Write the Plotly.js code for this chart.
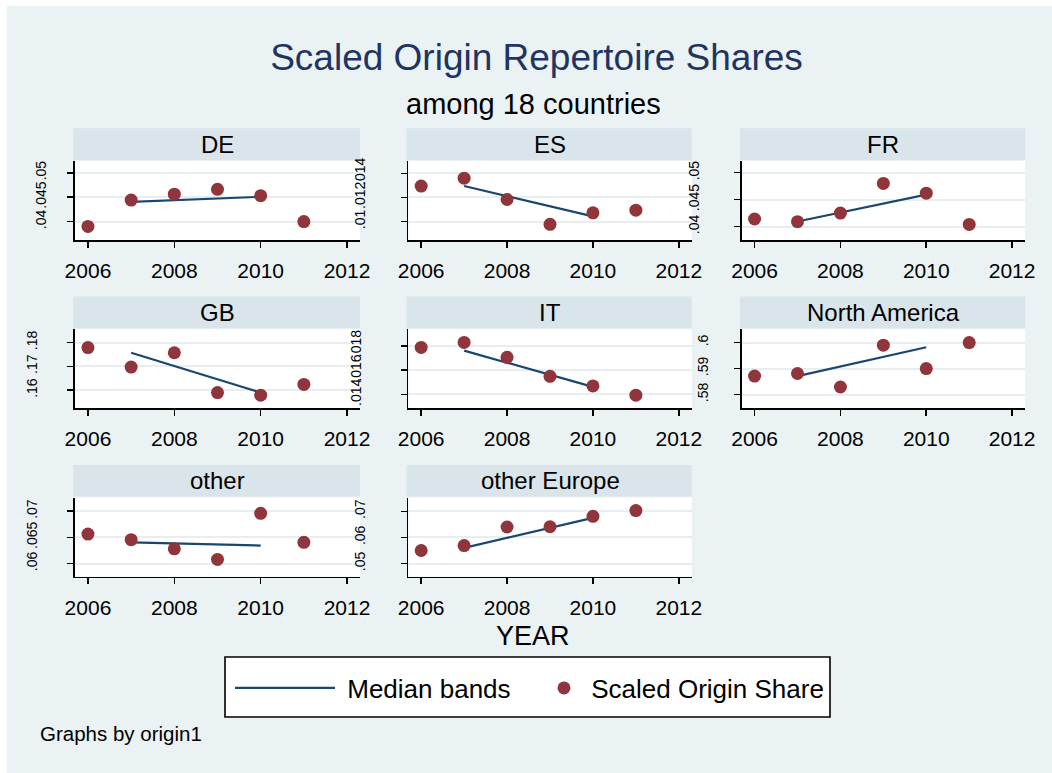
<!DOCTYPE html>
<html>
<head>
<meta charset="utf-8">
<script src="https://cdn.plot.ly/plotly-3.0.1.min.js"></script>
<style>
html,body{margin:0;padding:0;background:#ffffff;}
#chart{position:absolute;left:7px;top:6px;width:1045px;height:767px;}
</style>
</head>
<body>
<div id="chart"></div>
<script>
// ---- data ----
const years = [2006, 2007, 2008, 2009, 2010, 2011];
const panels = ["DE", "ES", "FR", "GB", "IT", "North America", "other", "other Europe"];

const shareDE = [0.0390, 0.0444, 0.0456, 0.0466, 0.0453, 0.0400];
const shareES = [0.01295, 0.0136, 0.01183, 0.00977, 0.01072, 0.01094];
const shareFR = [0.0414, 0.0409, 0.0425, 0.0480, 0.0462, 0.0404];
const shareGB = [0.1779, 0.1697, 0.1757, 0.1590, 0.1579, 0.1624];
const shareIT = [0.01786, 0.01827, 0.01705, 0.01549, 0.0147, 0.01394];
const shareNA = [0.5871, 0.5881, 0.5829, 0.5990, 0.5900, 0.6000];
const shareOther = [0.06564, 0.06457, 0.06283, 0.0608, 0.0696, 0.06406];
const shareOtherEur = [0.0550, 0.0569, 0.0640, 0.0641, 0.0681, 0.0703];

const medianYears = [2007, 2010];
const medDE = [0.04403, 0.04506];
const medES = [0.01295, 0.01043];
const medFR = [0.04094, 0.04594];
const medGB = [0.1757, 0.1590];
const medIT = [0.0176, 0.01462];
const medNA = [0.5871, 0.5982];
const medOther = [0.06406, 0.06344];
const medOtherEur = [0.0560, 0.0675];

const yTickVals = [
  [0.04, 0.045, 0.05],
  [0.01, 0.012, 0.014],
  [0.04, 0.045, 0.05],
  [0.16, 0.17, 0.18],
  [0.014, 0.016, 0.018],
  [0.58, 0.59, 0.6],
  [0.06, 0.065, 0.07],
  [0.05, 0.06, 0.07]
];
const yTickText = [
  [".04", ".045", ".05"],
  [".01", ".012", ".014"],
  [".04", ".045", ".05"],
  [".16", ".17", ".18"],
  [".014", ".016", ".018"],
  [".58", ".59", ".6"],
  [".06", ".065", ".07"],
  [".05", ".06", ".07"]
];
const xTickVals = [2006, 2008, 2010, 2012];
const xTickText = ["2006", "2008", "2010", "2012"];

const shares = [shareDE, shareES, shareFR, shareGB, shareIT, shareNA, shareOther, shareOtherEur];
const medians = [medDE, medES, medFR, medGB, medIT, medNA, medOther, medOtherEur];

// ---- layout helpers (pixel -> paper) ----
const W = 1045, H = 767, OX = 7, OY = 6;
const px = X => (X - OX) / W;
const py = Y => 1 - (Y - OY) / H;

const colX = [[75, 360], [408.3, 691.7], [741.7, 1025]];
const rowY = [[161, 240], [329.3, 408.3], [497.6, 576.7]];
const stripY = [[128.3, 160], [296.6, 328.3], [465, 496.6]];
const yRanges = [
  [0.03622, 0.0524],
  [0.008465, 0.01503],
  [0.0375, 0.05217],
  [0.1524, 0.18555],
  [0.01286, 0.01935],
  [0.5747, 0.6051],
  [0.0575, 0.0726],
  [0.04497, 0.07525]
];
const yStandoff = [16, 30, 30, 25, 34, 21, 25, 30];

const MAROON = "#8F353B";
const NAVY = "#1A476F";
const GRID = "#E6EEF1";
const BG = "#EAF2F3";
const STRIP = "#D9E5EA";
const FONT = "Liberation Sans, Arial, sans-serif";

const traces = [];
const layout = {
  width: W, height: H,
  margin: {l: 0, r: 0, t: 0, b: 0},
  paper_bgcolor: BG,
  plot_bgcolor: "#ffffff",
  font: {family: FONT, color: "#000000"},
  showlegend: true,
  title: {
    text: "Scaled Origin Repertoire Shares",
    font: {family: FONT, size: 37, color: "#1F3461"},
    x: px(536.5), xanchor: "center", xref: "container",
    y: py(57), yanchor: "middle", yref: "container"
  },
  shapes: [],
  annotations: [],
  legend: {
    orientation: "h",
    x: px(230), xanchor: "left",
    y: py(688), yanchor: "middle",
    bgcolor: "rgba(0,0,0,0)",
    borderwidth: 0,
    font: {family: FONT, size: 26, color: "#000000"},
    itemwidth: 100
  },
  legend2: {
    orientation: "h",
    x: px(544), xanchor: "left",
    y: py(688), yanchor: "middle",
    bgcolor: "rgba(0,0,0,0)",
    borderwidth: 0,
    font: {family: FONT, size: 26, color: "#000000"},
    itemwidth: 30
  }
};

panels.forEach((name, i) => {
  const r = Math.floor(i / 3), c = i % 3;
  const ax = i === 0 ? "" : String(i + 1);
  const xa = "xaxis" + ax, ya = "yaxis" + ax;
  layout[xa] = {
    domain: [px(colX[c][0]), px(colX[c][1])],
    anchor: "y" + ax,
    range: [2005.7, 2012.3],
    tickvals: xTickVals, ticktext: xTickText,
    ticks: "outside", ticklen: 6, tickwidth: 1.6, tickcolor: "#000",
    showline: true, linecolor: "#000", linewidth: 1.6,
    showgrid: false, zeroline: false,
    tickfont: {family: FONT, size: 21, color: "#000"},
    ticklabelstandoff: 5,
    fixedrange: true
  };
  layout[ya] = {
    domain: [py(rowY[r][1]), py(rowY[r][0])],
    anchor: "x" + ax,
    range: yRanges[i],
    tickvals: yTickVals[i], ticktext: yTickText[i],
    tickangle: -90,
    ticks: "outside", ticklen: 6, tickwidth: 1.6, tickcolor: "#000",
    showline: true, linecolor: "#000", linewidth: 1.6,
    showgrid: true, gridcolor: GRID, gridwidth: 2,
    zeroline: false,
    tickfont: {family: FONT, size: 14, color: "#000"},
    ticklabelstandoff: yStandoff[i],
    fixedrange: true
  };
  // strip header
  layout.shapes.push({
    type: "rect", xref: "paper", yref: "paper", layer: "below",
    x0: px(colX[c][0] - 1.7), x1: px(colX[c][1]),
    y0: py(stripY[r][1]), y1: py(stripY[r][0]),
    fillcolor: STRIP, line: {width: 0}
  });
  layout.annotations.push({
    text: name, xref: "paper", yref: "paper",
    x: px((colX[c][0] + colX[c][1]) / 2), y: py((stripY[r][0] + stripY[r][1]) / 2),
    xanchor: "center", yanchor: "middle", showarrow: false,
    font: {family: FONT, size: 24, color: "#000"}
  });
  traces.push({
    type: "scatter", mode: "lines",
    x: medianYears, y: medians[i],
    xaxis: "x" + ax, yaxis: "y" + ax,
    line: {color: NAVY, width: 2.2},
    name: "\u00A0Median bands", legendgroup: "med", showlegend: i === 0,
    legend: "legend",
    hoverinfo: "skip"
  });
  traces.push({
    type: "scatter", mode: "markers",
    x: years, y: shares[i],
    xaxis: "x" + ax, yaxis: "y" + ax,
    marker: {color: MAROON, size: 13, line: {width: 0}},
    name: "\u00A0Scaled Origin Share", legendgroup: "pts", showlegend: i === 0,
    legend: "legend2",
    hoverinfo: "skip"
  });
});

// legend box
layout.shapes.push({
  type: "rect", xref: "paper", yref: "paper", layer: "below",
  x0: px(225), x1: px(830), y0: py(717), y1: py(657),
  fillcolor: "#ffffff", line: {color: "#000", width: 1.6}
});

layout.annotations.push(
  {text: "among 18 countries", xref: "paper", yref: "paper", x: px(533.5), y: py(104),
   xanchor: "center", yanchor: "middle", showarrow: false,
   font: {family: FONT, size: 29, color: "#000"}},
  {text: "YEAR", xref: "paper", yref: "paper", x: px(533), y: py(636),
   xanchor: "center", yanchor: "middle", showarrow: false,
   font: {family: FONT, size: 27, color: "#000"}},
  {text: "Graphs by origin1", xref: "paper", yref: "paper", x: px(38), y: py(733),
   xanchor: "left", yanchor: "middle", showarrow: false,
   font: {family: FONT, size: 20.5, color: "#000"}}
);

Plotly.newPlot("chart", traces, layout, {displayModeBar: false, staticPlot: true});
</script>
</body>
</html>
